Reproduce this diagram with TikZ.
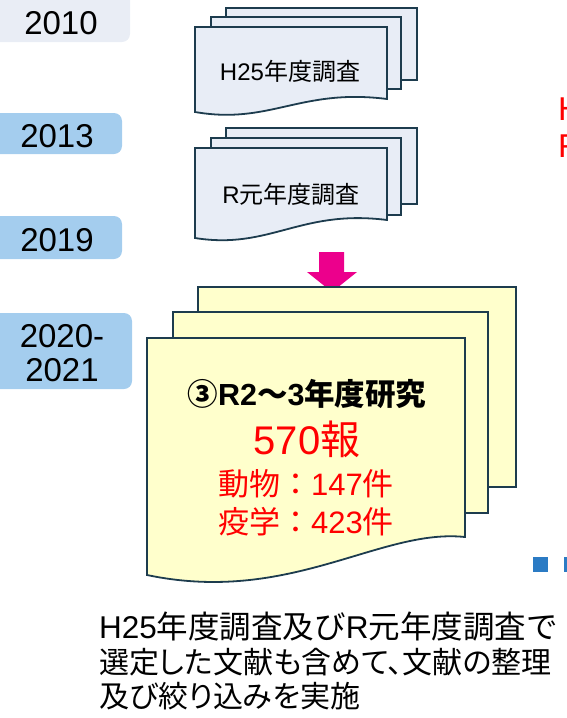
\documentclass[tikz,border=0pt]{standalone}
\usepackage{fontspec}
\setmainfont{Noto Sans CJK JP}
\newfontfamily\lat{Liberation Sans}
\newfontfamily\cjkpalt[RawFeature=+palt]{Noto Sans CJK JP}
\definecolor{docline}{HTML}{1D3C4E}
\definecolor{docblue}{HTML}{E8EDF6}
\definecolor{docyellow}{HTML}{FFFFCC}
\definecolor{yearpale}{HTML}{E9EDF5}
\definecolor{yearblue}{HTML}{A4CDEE}
\definecolor{sqblue}{HTML}{2B7BC4}
\tikzset{
  pagebox/.style={draw=docline, line width=1.8pt, line join=miter},
  yearbox/.style={rounded corners=8pt},
  yeartext/.style={anchor=base, inner sep=0pt, font=\lat\fontsize{33}{36}\selectfont},
  doctext/.style={anchor=base, inner sep=0pt, font=\fontsize{24}{27}\selectfont},
  redtext/.style={anchor=base, inner sep=0pt, text=red},
  bottomtext/.style={anchor=base west, inner sep=0pt, font=\fontsize{30}{34}\selectfont},
}
\begin{document}
\begin{tikzpicture}[x=1pt,y=-1pt]
\useasboundingbox (0,0) rectangle (566,718);

% year labels
\fill[yearpale, yearbox] (-10,-10) rectangle (130,42);
\node[yeartext] (y2010) at (61,34) {2010};
\fill[yearblue, yearbox] (-10,113) rectangle (122,154);
\node[yeartext] (y2013) at (57,147) {2013};
\fill[yearblue, yearbox] (-10,216) rectangle (122,259);
\node[yeartext] (y2019) at (57,251) {2019};
\fill[yearblue, yearbox] (-10,313) rectangle (132,389);
\node[yeartext] (y2020) at (62,347) {2020-};
\node[yeartext] (y2021) at (62,381) {2021};

% H25 document stack
\draw[pagebox, fill=docblue] (226,8) rectangle (417,80);
\draw[pagebox, fill=docblue] (211,17) rectangle (401,89);
\draw[pagebox, fill=docblue] (195,27) -- (387,27) -- (387,99)
  .. controls (300,88) and (270,125) .. (195,112) -- cycle;
\node[doctext] (h25) at (290,80) {{\lat H25}年度調査};

% R1 document stack
\draw[pagebox, fill=docblue] (226,128) rectangle (417,204);
\draw[pagebox, fill=docblue] (211,138) rectangle (401,215);
\draw[pagebox, fill=docblue] (195,148) -- (387,148) -- (387,220)
  .. controls (300,209) and (270,250) .. (195,238) -- cycle;
\node[doctext] (r1) at (291,203) {{\lat R}元年度調査};

% magenta arrow
\fill[magenta] (319,252) -- (344,252) -- (344,272) -- (357,272) -- (332,292)
  -- (307,272) -- (319,272) -- cycle;

% yellow document stack
\draw[pagebox, fill=docyellow] (198,287) rectangle (516,487);
\draw[pagebox, fill=docyellow] (173,312) rectangle (488,513);
\draw[pagebox, fill=docyellow] (147,338) -- (465,338) -- (465,537)
  .. controls (380,528) and (290,605) .. (147,575) -- cycle;

\node[anchor=base, inner sep=0pt, font=\fontsize{30.5}{33}\selectfont\bfseries] (title) at (307,405)
  {③{\lat\bfseries R2}～{\lat\bfseries 3}年度研究};
\node[redtext, font=\fontsize{40}{44}\selectfont] (total) at (307,454) {{\lat 570}報};
\node[redtext, font=\fontsize{31}{34}\selectfont] (animal) at (306,495) {動物：{\lat 147}件};
\node[redtext, font=\fontsize{31}{34}\selectfont] (epi) at (306,533) {疫学：{\lat 423}件};

% partial red text at the right edge
\node[redtext, anchor=base west, font=\lat\fontsize{33}{36}\selectfont] (rh) at (558,120) {H};
\node[redtext, anchor=base west, font=\lat\fontsize{33}{36}\selectfont] (rr) at (558,157) {R};

% blue squares
\fill[sqblue] (533,557) rectangle (548,572);
\fill[sqblue] (564,557) rectangle (580,572);

% bottom text
\node[bottomtext, font=\fontsize{31.5}{34}\selectfont] (line1) at (99,638) {{\lat H25}年度調査及び{\lat R}元年度調査で};
\node[bottomtext] (line2) at (99,673) {\cjkpalt 選定した文献も含めて、文献の整理};
\node[bottomtext] (line3) at (99,707) {\cjkpalt 及び絞り込みを実施};
\end{tikzpicture}
\end{document}
